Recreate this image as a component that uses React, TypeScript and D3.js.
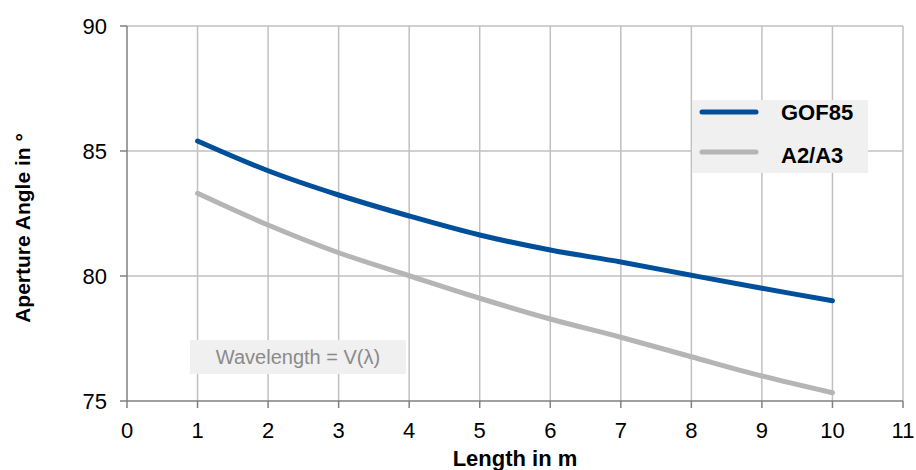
import React from 'react';
import * as d3 from "d3";

const lengths = [1, 2, 3, 4, 5, 6, 7, 8, 9, 10];
const gof85 = [85.4, 84.21, 83.24, 82.4, 81.64, 81.04, 80.56, 80.03, 79.51, 79.01];
const a2a3 = [83.31, 82.04, 80.93, 80.01, 79.11, 78.28, 77.55, 76.77, 76.0, 75.33];
const seriesNames = ["GOF85", "A2/A3"];
const seriesColors = ["#004f9a", "#b5b5b5"];
const xTicks = [0, 1, 2, 3, 4, 5, 6, 7, 8, 9, 10, 11];
const yTicks = [75, 80, 85, 90];

const App = () => {
  const width = 916;
  const height = 470;
  const font = "Arial, 'Liberation Sans', sans-serif";

  const x = d3.scaleLinear().domain([0, 11]).range([127, 903]);
  const y = d3.scaleLinear().domain([75, 90]).range([401, 26]);

  const line = d3.line<number>()
    .x((d, i) => x(lengths[i]))
    .y(d => y(d))
    .curve(d3.curveCatmullRom);

  const series = [gof85, a2a3];

  return (
    <svg width={width} height={height} style={{position: "absolute", left: 0, top: 0}}>
      <rect width={width} height={height} fill="#fff" />
      {/* grid */}
      {xTicks.slice(1).map(t =>
        <line key={"gx" + t} x1={x(t)} x2={x(t)} y1={y(90)} y2={y(75)} stroke="#c0c0c0" strokeWidth={1.5} />
      )}
      {yTicks.slice(1).map(t =>
        <line key={"gy" + t} x1={x(0)} x2={x(11)} y1={y(t)} y2={y(t)} stroke="#c0c0c0" strokeWidth={1.5} />
      )}
      {/* axes */}
      <line x1={x(0)} x2={x(0)} y1={y(90)} y2={y(75)} stroke="#808080" strokeWidth={1.5} />
      <line x1={x(0)} x2={x(11)} y1={y(75)} y2={y(75)} stroke="#808080" strokeWidth={1.5} />
      {yTicks.map(t =>
        <g key={"yt" + t}>
          <line x1={x(0) - 7} x2={x(0)} y1={y(t)} y2={y(t)} stroke="#808080" strokeWidth={1.5} />
          <text x={107} y={y(t) + 8} textAnchor="end" fontFamily={font} fontSize={22}>{t}</text>
        </g>
      )}
      {xTicks.map(t =>
        <g key={"xt" + t}>
          <line x1={x(t)} x2={x(t)} y1={y(75)} y2={y(75) + 7} stroke="#808080" strokeWidth={1.5} />
          <text x={x(t)} y={438} textAnchor="middle" fontFamily={font} fontSize={22}>{t}</text>
        </g>
      )}
      {/* annotation */}
      <rect x={190} y={340} width={216} height={34} fill="#f0f0f0" />
      <text x={298} y={364} textAnchor="middle" fontFamily={font} fontSize={20} fill="#8a8a8a">Wavelength = V(λ)</text>
      {/* lines */}
      {series.map((s, i) =>
        <path key={"s" + i} d={line(s) || ""} fill="none" stroke={seriesColors[i]} strokeWidth={5} strokeLinecap="round" />
      )}
      {/* legend */}
      <rect x={692} y={100} width={176} height={73} fill="#f0f0f0" />
      {seriesNames.map((n, i) =>
        <g key={"lg" + i}>
          <line x1={702} x2={756} y1={112 + i * 40} y2={112 + i * 40} stroke={seriesColors[i]} strokeWidth={5} strokeLinecap="round" />
          <text x={781} y={120 + i * 43} fontFamily={font} fontSize={22} fontWeight="bold">{n}</text>
        </g>
      )}
      {/* axis titles */}
      <text x={515} y={466} textAnchor="middle" fontFamily={font} fontSize={22} fontWeight="bold">Length in m</text>
      <text transform={`translate(30,228) rotate(-90)`} textAnchor="middle" fontFamily={font} fontSize={21} fontWeight="bold">Aperture Angle in °</text>
    </svg>
  );
};

export default App;
